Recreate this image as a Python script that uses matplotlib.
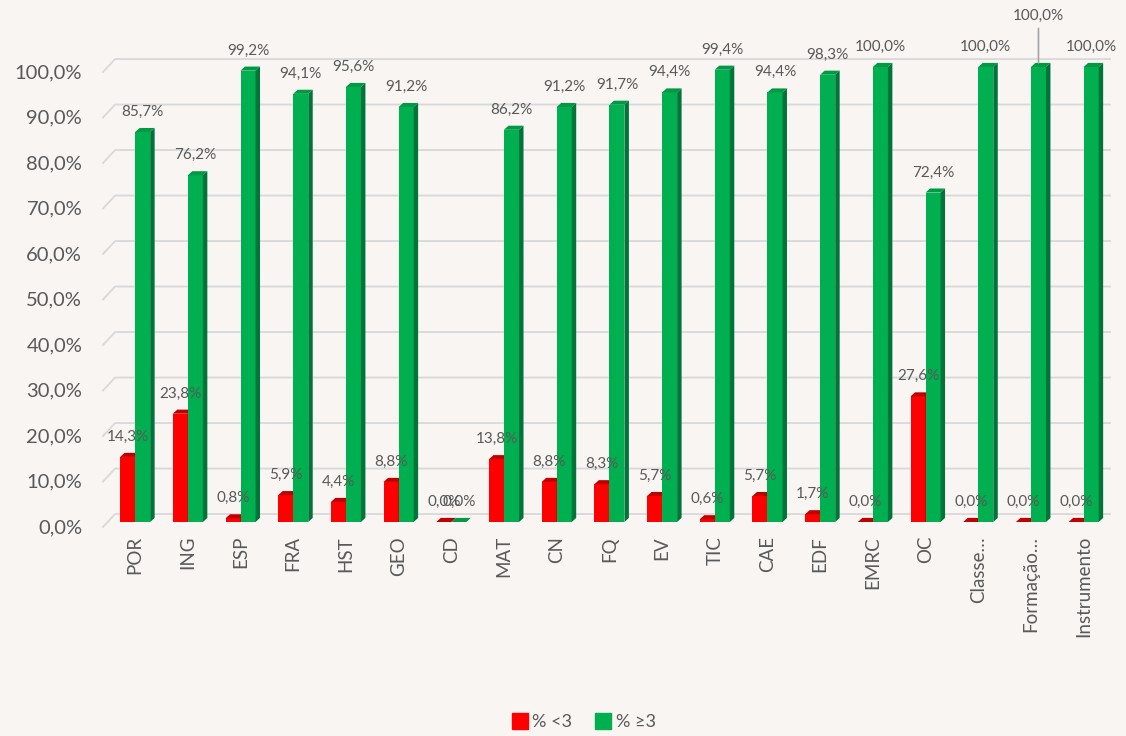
import matplotlib.pyplot as plt
from matplotlib.patches import Polygon
from matplotlib.lines import Line2D
from matplotlib.transforms import ScaledTranslation
import numpy as np

plt.rcParams['font.family'] = ['Lato', 'DejaVu Sans']

categories = ['POR', 'ING', 'ESP', 'FRA', 'HST', 'GEO', 'CD', 'MAT', 'CN', 'FQ',
              'EV', 'TIC', 'CAE', 'EDF', 'EMRC', 'OC', 'Classe…', 'Formação…', 'Instrumento']
below3 = [14.3, 23.8, 0.8, 5.9, 4.4, 8.8, 0.0, 13.8, 8.8, 8.3,
          5.7, 0.6, 5.7, 1.7, 0.0, 27.6, 0.0, 0.0, 0.0]
above3 = [85.7, 76.2, 99.2, 94.1, 95.6, 91.2, 0.0, 86.2, 91.2, 91.7,
          94.4, 99.4, 94.4, 98.3, 100.0, 72.4, 100.0, 100.0, 100.0]
yticks = np.arange(0, 101, 10)

bg = '#F8F5F2'
txt = '#595959'
red, red_top, red_side = '#FF0000', '#C00000', '#A00000'
green, green_top, green_side = '#00B050', '#009A44', '#00753A'

fig = plt.figure(figsize=(11.26, 7.36), dpi=100, facecolor=bg)
ax = fig.add_axes([103 / 1126, (736 - 522) / 736, 1007 / 1126, 455 / 736])
ax.set_facecolor(bg)
x = np.arange(len(categories))
w = 0.285
ax.set_xlim(-0.61, 18.5)
ax.set_ylim(0, 100)

# depth of the fake 3D, in data units
dx, dy = 0.085, 0.9

# back-wall gridlines, short slant at the left
for v in yticks:
    ax.plot([-0.61, -0.38, 18.5], [v - 1.1, v + 1.75, v + 1.75],
            color='#D9D9D9', lw=1.3, zorder=0, clip_on=False)


def bar3d(xs, vals, front, top, side):
    bars = ax.bar(xs, vals, width=w, align='edge', color=front, zorder=3, lw=0)
    for b in bars:
        x0, h, bw = b.get_x(), b.get_height(), b.get_width()
        ax.add_patch(Polygon([(x0, h), (x0 + dx, h + dy), (x0 + bw + dx, h + dy), (x0 + bw, h)],
                             closed=True, color=top, lw=0, zorder=3, clip_on=False))
        ax.add_patch(Polygon([(x0 + bw, 0), (x0 + bw + dx, dy), (x0 + bw + dx, h + dy), (x0 + bw, h)],
                             closed=True, color=side, lw=0, zorder=3, clip_on=False))
    return bars


bars_r = bar3d(x - w, below3, red, red_top, red_side)
bars_g = bar3d(x, above3, green, green_top, green_side)

for bars in (bars_r, bars_g):
    for i, b in enumerate(bars):
        h = b.get_height()
        lab = f'{h:.1f}'.replace('.', ',') + '%'
        cx = b.get_x() + b.get_width() / 2
        if bars is bars_g and categories[i].startswith('Forma'):
            ax.annotate(lab, (cx, h + dy), xytext=(0, 40), textcoords='offset pixels',
                        ha='center', va='bottom', fontsize=11, color=txt,
                        arrowprops=dict(arrowstyle='-', color='#A6A6A6', lw=1.2,
                                        shrinkA=2, shrinkB=0), annotation_clip=False)
        else:
            ax.annotate(lab, (cx, h + dy), xytext=(0, 9), textcoords='offset pixels',
                        ha='center', va='bottom', fontsize=11, color=txt,
                        annotation_clip=False)

ax.set_yticks(yticks)
ax.set_yticklabels([f'{v:.1f}'.replace('.', ',') + '%' for v in yticks],
                   fontsize=14.5, color=txt)
ax.set_xticks(x)
ax.set_xticklabels(categories, rotation=90, fontsize=13.5, color=txt)
ax.tick_params(length=0, axis='y', pad=15)
ax.tick_params(length=0, axis='x', pad=10)
# y labels sit a touch lower than the gridlines
for t in ax.get_yticklabels():
    t.set_transform(t.get_transform() + ScaledTranslation(0, -0.04, fig.dpi_scale_trans))
for s in ax.spines.values():
    s.set_visible(False)

handles = [Line2D([], [], marker='s', ls='', color=red, markersize=11),
           Line2D([], [], marker='s', ls='', color=green, markersize=11)]
fig.legend(handles, ['% <3', '% ≥3'], loc='center', bbox_to_anchor=(0.518, 0.019),
           ncol=2, frameon=False, fontsize=13, labelcolor=txt, handletextpad=0.2,
           columnspacing=1.2, handlelength=1.0)

fig.savefig('out.png', dpi=100, facecolor=bg)
